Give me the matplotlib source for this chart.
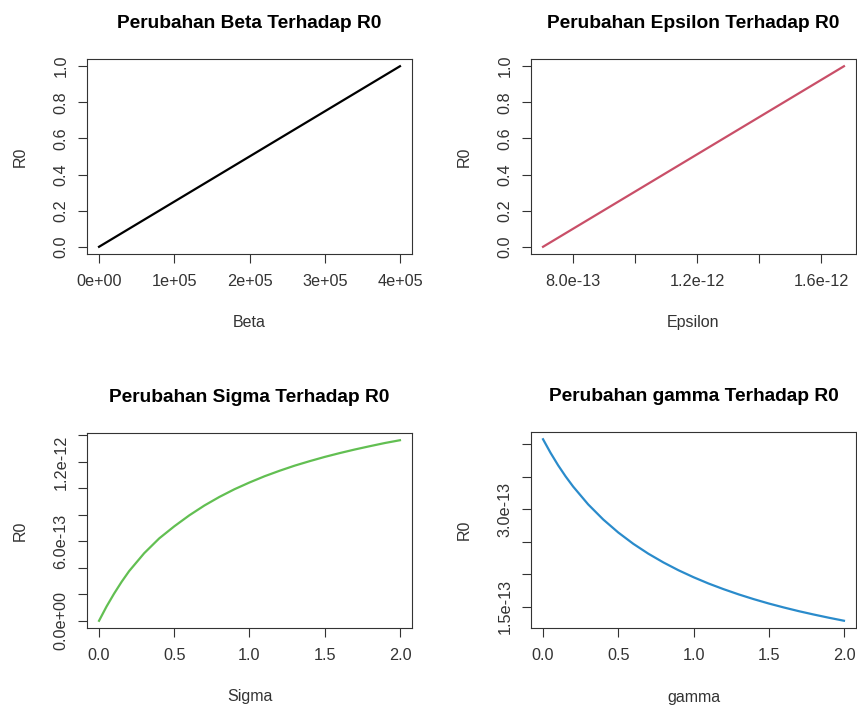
import matplotlib.pyplot as plt

# nilai (plot R, 2x2)
beta = [0, 5e4, 1e5, 1.5e5, 2e5, 2.5e5, 3e5, 3.5e5, 4e5]
r0_beta = [0.0, 0.125, 0.25, 0.375, 0.5, 0.625, 0.75, 0.875, 1.0]

epsilon = [7.03e-13, 8.0e-13, 1.0e-12, 1.2e-12, 1.4e-12, 1.6e-12, 1.674e-12]
r0_epsilon = [0.0, 0.0999, 0.3058, 0.5118, 0.7178, 0.9238, 1.0]

sigma = [0.0, 0.05, 0.1, 0.15, 0.2, 0.3, 0.4, 0.5, 0.6, 0.7, 0.8, 0.9, 1.0,
         1.1, 1.2, 1.3, 1.4, 1.5, 1.6, 1.7, 1.8, 1.9, 2.0]
r0_sigma = [0.0, 0.108, 0.205, 0.294, 0.375, 0.510, 0.622, 0.713, 0.796, 0.870, 0.935, 0.993, 1.044,
            1.091, 1.1325, 1.171, 1.205, 1.237, 1.266, 1.293, 1.318, 1.342, 1.363]
r0_sigma = [v * 1e-12 for v in r0_sigma]

gamma = [0.0, 0.05, 0.1, 0.15, 0.2, 0.3, 0.4, 0.5, 0.6, 0.7, 0.8, 0.9, 1.0,
         1.1, 1.2, 1.3, 1.4, 1.5, 1.6, 1.7, 1.8, 1.9, 2.0]
r0_gamma = [4.073, 3.864, 3.674, 3.502, 3.346, 3.072, 2.840, 2.640, 2.466, 2.314, 2.180, 2.060, 1.953,
            1.856, 1.769, 1.689, 1.616, 1.549, 1.488, 1.431, 1.379, 1.330, 1.284]
r0_gamma = [v * 1e-13 for v in r0_gamma]

# tick + label (label kosong = disembunyikan seperti di R)
ticks_r01 = [0.0, 0.2, 0.4, 0.6, 0.8, 1.0]
labels_r01 = ['0.0', '0.2', '0.4', '0.6', '0.8', '1.0']
ticks_beta = [0, 1e5, 2e5, 3e5, 4e5]
labels_beta = ['0e+00', '1e+05', '2e+05', '3e+05', '4e+05']
ticks_eps = [8e-13, 1.0e-12, 1.2e-12, 1.4e-12, 1.6e-12]
labels_eps = ['8.0e-13', '', '1.2e-12', '', '1.6e-12']
ticks_02 = [0.0, 0.5, 1.0, 1.5, 2.0]
labels_02 = ['0.0', '0.5', '1.0', '1.5', '2.0']
ticks_sig_y = [0, 2e-13, 4e-13, 6e-13, 8e-13, 1e-12, 1.2e-12, 1.4e-12]
labels_sig_y = ['0.0e+00', '', '', '6.0e-13', '', '', '1.2e-12', '']
ticks_gam_y = [1.5e-13, 2.0e-13, 2.5e-13, 3.0e-13, 3.5e-13, 4.0e-13]
labels_gam_y = ['1.5e-13', '', '', '3.0e-13', '', '']

plt.rcParams['font.family'] = ['Liberation Sans', 'DejaVu Sans']

fig = plt.figure(figsize=(8.57, 7.07), dpi=100)
W, H = 857.0, 707.0


def make_axes(left, top, right, bottom):
    return fig.add_axes([left / W, 1 - bottom / H, (right - left) / W, (bottom - top) / H])


panels = [
    (make_axes(87, 59, 412, 254), beta, r0_beta, '#000000', 'Perubahan Beta Terhadap R0', 'Beta',
     ticks_beta, labels_beta, ticks_r01, labels_r01),
    (make_axes(531, 59, 856, 254), epsilon, r0_epsilon, '#C94F68', 'Perubahan Epsilon Terhadap R0', 'Epsilon',
     ticks_eps, labels_eps, ticks_r01, labels_r01),
    (make_axes(87, 433, 412, 628), sigma, r0_sigma, '#62BF52', 'Perubahan Sigma Terhadap R0', 'Sigma',
     ticks_02, labels_02, ticks_sig_y, labels_sig_y),
    (make_axes(531, 432, 856, 628), gamma, r0_gamma, '#2A8BCB', 'Perubahan gamma Terhadap R0', 'gamma',
     ticks_02, labels_02, ticks_gam_y, labels_gam_y),
]

for ax, x, y, col, title, xlab, xt, xl, yt, yl in panels:
    ax.plot(x, y, color=col, lw=1.6)
    ax.margins(0.04)
    ax.set_xticks(xt)
    ax.set_xticklabels(xl)
    ax.set_yticks(yt)
    ax.set_yticklabels(yl, rotation=90, va='center')
    ax.tick_params(direction='out', length=6.8, width=0.8, color='#333333',
                   labelsize=11.7, labelcolor='#333333')
    ax.tick_params(axis='x', pad=7.5)
    ax.tick_params(axis='y', pad=6.5)
    for s in ax.spines.values():
        s.set_color('#333333')
        s.set_linewidth(0.8)
    ax.set_title(title, fontsize=13.8, fontweight='bold', pad=22.5)
    ax.set_xlabel(xlab, fontsize=11.5, color='#333333')
    ax.xaxis.set_label_coords(0.5, -68.7 / 195)
    ax.xaxis.label.set_va('center')
    ax.set_ylabel('R0', fontsize=11.5, color='#333333')
    ax.yaxis.set_label_coords(-67.0 / 325, 0.5)
    ax.yaxis.label.set_va('center')

fig.savefig('out.png', dpi=100, facecolor='white')
